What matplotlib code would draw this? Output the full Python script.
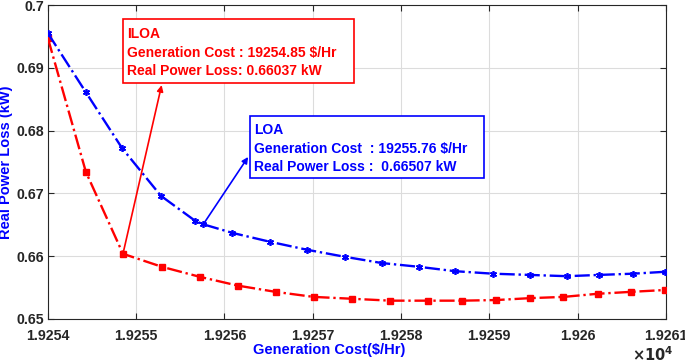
import matplotlib

matplotlib.use("Agg")
import matplotlib.pyplot as plt
from matplotlib.patches import Rectangle

plt.rcParams["font.family"] = ["Liberation Sans", "DejaVu Sans"]
plt.rcParams["font.weight"] = "bold"

# ILOA curve (red squares)
iloa_cost = [19254.00, 19254.43, 19254.85, 19255.29, 19255.72, 19256.15,
             19256.58, 19257.01, 19257.45, 19257.88, 19258.31, 19258.69,
             19259.08, 19259.46, 19259.84, 19260.23, 19260.60, 19260.99]
iloa_loss = [0.6947, 0.6734, 0.66037, 0.6583, 0.6567, 0.6553,
             0.6543, 0.6535, 0.6532, 0.6529, 0.6529, 0.6529,
             0.6530, 0.6533, 0.6535, 0.6540, 0.6543, 0.6546]

# LOA curve (blue stars)
loa_cost = [19254.00, 19254.43, 19254.84, 19255.28, 19255.67, 19255.76,
            19256.09, 19256.51, 19256.94, 19257.36, 19257.78, 19258.20,
            19258.61, 19259.04, 19259.46, 19259.88, 19260.24, 19260.63,
            19260.99]
loa_loss = [0.6955, 0.6861, 0.6772, 0.6696, 0.6656, 0.66507,
            0.6637, 0.6623, 0.6610, 0.6599, 0.6589, 0.6583,
            0.6576, 0.6572, 0.6570, 0.6568, 0.6570, 0.6572,
            0.6575]

best_iloa = (19254.85, 0.66037)
best_loa = (19255.76, 0.66507)
iloa_text = "ILOA\nGeneration Cost : 19254.85 \\$/Hr\nReal Power Loss: 0.66037 kW"
loa_text = "LOA\nGeneration Cost  : 19255.76 \\$/Hr\nReal Power Loss :  0.66507 kW"

x_ticks = [19254, 19255, 19256, 19257, 19258, 19259, 19260, 19261]
y_ticks = [0.65, 0.66, 0.67, 0.68, 0.69, 0.70]

fig = plt.figure(figsize=(6.85, 3.64), dpi=100)
ax = fig.add_axes([0.070, 0.124, 0.902, 0.862])

ax.plot(iloa_cost, iloa_loss, color="#ff0000", ls="-.", lw=1.7,
        marker="s", ms=4.8, zorder=3)
ax.plot(loa_cost, loa_loss, color="#0000ff", ls="-.", lw=1.7,
        marker=(6, 2, 0), ms=5, mew=1.2, zorder=3)

ax.set_xlim(19254, 19261)
ax.set_ylim(0.65, 0.70)
ax.set_xticks(x_ticks)
ax.set_xticklabels([f"{v / 1e4:g}" for v in x_ticks])
ax.set_yticks(y_ticks)
ax.set_yticklabels([f"{v:g}" for v in y_ticks])
ax.tick_params(direction="in", top=True, right=True, length=4,
               colors="#262626", labelsize=10.2, width=0.8)
ax.tick_params(axis="x", pad=7)
ax.tick_params(axis="y", pad=3)
for lab in ax.get_xticklabels() + ax.get_yticklabels():
    lab.set_fontweight("bold")
for sp in ax.spines.values():
    sp.set_color("#262626")
    sp.set_linewidth(0.8)
ax.grid(True, color="#dcdcdc", lw=0.8)
ax.set_axisbelow(True)

ax.set_xlabel("Generation Cost(\\$/Hr)", color="#0000ff", fontsize=10.5,
              fontweight="bold")
ax.xaxis.set_label_coords(0.455, -0.078)
ax.set_ylabel("Real Power Loss (kW)", color="#0000ff", fontsize=10.5,
              fontweight="bold")
ax.yaxis.set_label_coords(-0.056, 0.5)
fig.text(0.922, 0.008, r"$\times\mathbf{10^4}$", fontsize=10.5, color="#262626")

# annotation boxes (axes fraction)
ax.add_patch(Rectangle((0.121, 0.752), 0.374, 0.203, transform=ax.transAxes,
                       fc="white", ec="#ff0000", lw=1.2, zorder=4))
ax.add_patch(Rectangle((0.327, 0.449), 0.379, 0.197, transform=ax.transAxes,
                       fc="white", ec="#0000ff", lw=1.2, zorder=4))
ax.text(0.128, 0.93, iloa_text, transform=ax.transAxes, color="#ff0000",
        fontsize=10, fontweight="bold", va="top", ha="left", linespacing=1.42,
        zorder=5)
ax.text(0.334, 0.624, loa_text, transform=ax.transAxes, color="#0000ff",
        fontsize=10, fontweight="bold", va="top", ha="left", linespacing=1.42,
        zorder=5)

ax.annotate("", xy=(0.184, 0.745), xycoords="axes fraction",
            xytext=best_iloa, textcoords="data",
            arrowprops=dict(arrowstyle="-|>", color="#ff0000", lw=1.2,
                            mutation_scale=9, shrinkA=0, shrinkB=0))
ax.annotate("", xy=(0.324, 0.516), xycoords="axes fraction",
            xytext=best_loa, textcoords="data",
            arrowprops=dict(arrowstyle="-|>", color="#0000ff", lw=1.2,
                            mutation_scale=9, shrinkA=0, shrinkB=0))

fig.savefig("out.png", dpi=100)
